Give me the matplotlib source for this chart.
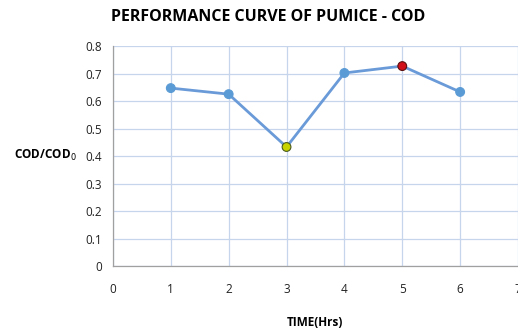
import matplotlib.pyplot as plt

time_hrs = [1, 2, 3, 4, 5, 6]
cod_ratio = [0.647, 0.625, 0.433, 0.702, 0.727, 0.633]
marker_colors = ["#5B9BD5", "#5B9BD5", "#C8D400", "#5B9BD5", "#D0101A", "#5B9BD5"]
edge_colors = ["#5B9BD5", "#5B9BD5", "#4A5A20", "#5B9BD5", "#5A1010", "#5B9BD5"]

plt.rcParams["font.family"] = ["Open Sans", "DejaVu Sans"]

fig = plt.figure(figsize=(5.18, 3.31), dpi=100)
ax = fig.add_axes([0.218, 0.196, 0.782, 0.665])

ax.plot(time_hrs, cod_ratio, color="#6A9BD8", linewidth=2, zorder=3)
ax.scatter(time_hrs, cod_ratio, s=40, c=marker_colors, edgecolors=edge_colors,
           linewidths=0.8, zorder=4)

ax.set_xlim(0, 7)
ax.set_ylim(0, 0.8)
ax.set_xticks(range(0, 8))
ax.set_yticks([0, 0.1, 0.2, 0.3, 0.4, 0.5, 0.6, 0.7, 0.8])
ax.set_yticklabels(["0", "0.1", "0.2", "0.3", "0.4", "0.5", "0.6", "0.7", "0.8"])
ax.grid(True, color="#C6D5EC", linewidth=0.9)
ax.set_axisbelow(True)
ax.tick_params(length=0, labelsize=8.5, colors="#222222", pad=8)
ax.tick_params(axis="x", pad=12)

for s in ["top", "right"]:
    ax.spines[s].set_visible(False)
for s in ["left", "bottom"]:
    ax.spines[s].set_color("#A0A0A0")
    ax.spines[s].set_linewidth(0.9)

fig.text(0.517, 0.95, "PERFORMANCE CURVE OF PUMICE - COD", ha="center", va="center",
         fontsize=11.5, fontweight="bold")
fig.text(0.087, 0.53, "COD/COD$_0$", ha="center", va="center", fontsize=8.5, fontweight="bold")
fig.text(0.608, 0.027, "TIME(Hrs)", ha="center", va="center", fontsize=8.5, fontweight="bold")

fig.savefig("out.png", dpi=100)
